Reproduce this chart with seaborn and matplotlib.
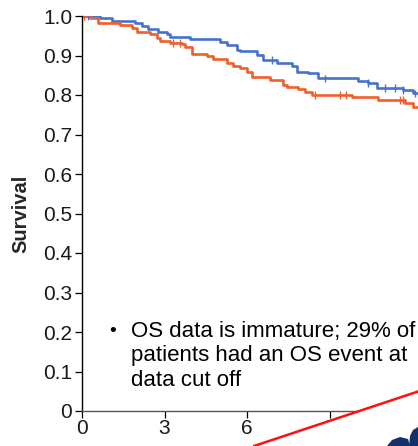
import numpy as np
import pandas as pd
import matplotlib
matplotlib.use("Agg")
import matplotlib.pyplot as plt
from matplotlib.patches import Polygon
from matplotlib.lines import Line2D
import seaborn as sns

# Kaplan-Meier step data (months, survival probability after each step)
blue_t = [0, 0.65, 1.08, 1.93, 2.17, 2.41, 2.76, 3.08, 3.20, 3.93, 5.02, 5.26,
          5.63, 5.75, 6.35, 6.58, 7.08, 7.63, 7.81, 8.22, 8.58, 10.04, 10.40,
          10.72, 11.67, 12.04, 12.40]
blue_s = [1.0, 0.994, 0.988, 0.983, 0.975, 0.966, 0.959, 0.954, 0.948, 0.941,
          0.935, 0.927, 0.914, 0.911, 0.901, 0.889, 0.882, 0.873, 0.859, 0.855,
          0.842, 0.836, 0.830, 0.818, 0.813, 0.804, 0.804]
orange_t = [0, 0.29, 0.59, 1.38, 1.81, 1.99, 2.47, 2.72, 2.84, 3.20, 3.63, 3.75,
            3.99, 4.53, 4.77, 5.26, 5.50, 5.75, 5.99, 6.17, 6.84, 7.32, 7.44,
            7.87, 8.11, 8.35, 9.81, 10.77, 11.75, 12.05, 12.40]
orange_s = [1.0, 0.994, 0.983, 0.977, 0.969, 0.960, 0.954, 0.944, 0.937, 0.932,
            0.928, 0.922, 0.904, 0.899, 0.890, 0.882, 0.873, 0.868, 0.859, 0.846,
            0.838, 0.825, 0.819, 0.814, 0.808, 0.800, 0.794, 0.787, 0.781, 0.770,
            0.770]
# censoring times
blue_cens = [0.20, 6.90, 8.85, 10.40, 11.02, 11.38, 11.67, 12.11]
orange_cens = [0.07, 3.31, 3.56, 8.47, 9.38, 9.60, 11.56, 11.67]

y_ticks = [0, 0.1, 0.2, 0.3, 0.4, 0.5, 0.6, 0.7, 0.8, 0.9, 1.0]
y_tick_labels = ["0", "0.1", "0.2", "0.3", "0.4", "0.5", "0.6", "0.7", "0.8", "0.9", "1.0"]
x_ticks = [0, 3, 6, 9]

BLUE = "#4672cc"
ORANGE = "#f05f2a"


def step_value(times, surv, t):
    idx = np.searchsorted(times, t, side="right") - 1
    return surv[idx]


curves = pd.concat([
    pd.DataFrame({"time": blue_t, "surv": blue_s, "arm": "A"}),
    pd.DataFrame({"time": orange_t, "surv": orange_s, "arm": "B"}),
])
cens = pd.concat([
    pd.DataFrame({"time": blue_cens,
                  "surv": [step_value(blue_t, blue_s, t) for t in blue_cens],
                  "arm": "A"}),
    pd.DataFrame({"time": orange_cens,
                  "surv": [step_value(orange_t, orange_s, t) for t in orange_cens],
                  "arm": "B"}),
])

sns.set_theme(style="white")
plt.rcParams["font.family"] = ["Liberation Sans", "DejaVu Sans"]

fig = plt.figure(figsize=(4.18, 4.46), dpi=100)
ax = fig.add_axes([82 / 418, 35 / 446, 336 / 418, 395 / 446])

palette = {"A": BLUE, "B": ORANGE}
sns.lineplot(data=curves, x="time", y="surv", hue="arm", palette=palette,
             drawstyle="steps-post", estimator=None, sort=False,
             linewidth=1.9, legend=False, ax=ax)
sns.scatterplot(data=cens, x="time", y="surv", hue="arm", palette=palette,
                marker="|", s=30, linewidth=1.0, legend=False, ax=ax, zorder=3)

ax.set_xlim(0, 336 / 27.5)
ax.set_ylim(0, 1.0)
ax.set_yticks(y_ticks)
ax.set_yticklabels(y_tick_labels)
ax.set_xticks(x_ticks)
ax.set_xlabel("")
ax.set_ylabel("Survival", fontsize=14.5, fontweight="bold", labelpad=9)
ax.tick_params(axis="both", direction="out", length=5, width=0.9, color="black",
               labelsize=15, pad=2, left=True, bottom=True, labelcolor="#1a1a1a")
ax.tick_params(axis="x", pad=1)
for side in ("top", "right"):
    ax.spines[side].set_visible(False)
ax.spines["left"].set_color("black")
ax.spines["left"].set_linewidth(1.0)
ax.spines["bottom"].set_color("#555555")
ax.spines["bottom"].set_linewidth(1.0)

# annotation
fig.text(113 / 418, (446 - 331) / 446, "•", fontsize=14, ha="center", va="center",
         color="black")
fig.text(131 / 418, (446 - 356) / 446,
         "OS data is immature; 29% of\npatients had an OS event at\ndata cut off",
         fontsize=16, ha="left", va="center", linespacing=1.2, color="black")

# slide overlay in the lower right corner
W, H = 418.0, 446.0
def fp(x, y):
    return (x / W, (H - y) / H)

cover = Polygon([fp(254, 446), fp(418, 391.5), fp(418, 446)], closed=True,
                transform=fig.transFigure, facecolor="white", edgecolor="none",
                zorder=10)
fig.add_artist(cover)
fig.add_artist(Line2D([254 / W, 1.0], [0.0, (H - 391.5) / H],
                      transform=fig.transFigure, color="#ff1010", linewidth=1.8,
                      zorder=11))
logo1 = Polygon([fp(387, 446), fp(392, 440), fp(400, 437), fp(408, 439),
                 fp(410, 446)], closed=True, transform=fig.transFigure,
                facecolor="#13306a", edgecolor="none", zorder=12)
logo2 = Polygon([fp(409, 446), fp(410, 436), fp(413, 430), fp(418, 427),
                 fp(418, 446)], closed=True, transform=fig.transFigure,
                facecolor="#13306a", edgecolor="none", zorder=12)
fig.add_artist(logo1)
fig.add_artist(logo2)

fig.savefig("out.png", dpi=100)
